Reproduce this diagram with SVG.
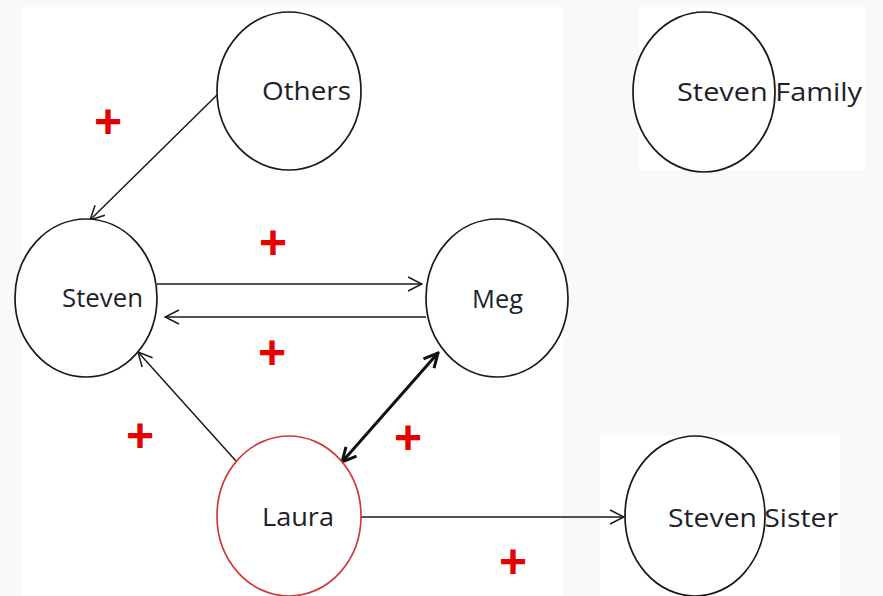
<svg xmlns="http://www.w3.org/2000/svg" width="883" height="596" viewBox="0 0 883 596">
<style>
.node{fill:#ffffff;stroke:#1a1a1a;stroke-width:1.7}
.red{stroke:#d03a3a}
.lbl{font-family:"Open Sans","Liberation Sans",sans-serif;font-size:26px;fill:#1e1e2a}
.plus{font-family:"Liberation Sans",Arial,sans-serif;font-weight:bold;font-size:48px;fill:#e60000;text-anchor:middle}
.edge{fill:none;stroke:#1a1a1a;stroke-width:1.5}
.thick{fill:none;stroke:#111;stroke-width:3}
</style>
<defs>
<marker id="arr" viewBox="0 0 16 16" refX="15" refY="8" markerWidth="16" markerHeight="16" markerUnits="userSpaceOnUse" orient="auto-start-reverse">
<path d="M1,1 L15,8 L1,15" fill="none" stroke="#1a1a1a" stroke-width="1.5"/>
</marker>
<marker id="arrT" viewBox="0 0 18 18" refX="16" refY="9" markerWidth="18" markerHeight="18" markerUnits="userSpaceOnUse" orient="auto-start-reverse">
<path d="M2,2 L16,9 L2,16" fill="none" stroke="#111" stroke-width="3"/>
</marker>
</defs>
<rect x="0" y="0" width="883" height="596" fill="#f9f9f9"/>
<rect x="22" y="7" width="541" height="589" fill="#ffffff"/>
<rect x="639" y="7" width="226" height="163" fill="#ffffff"/>
<rect x="600" y="435" width="240" height="161" fill="#ffffff"/>
<g id="connectors">
<line class="edge" x1="217" y1="95" x2="90" y2="220" marker-end="url(#arr)"/>
<line class="edge" x1="157" y1="284" x2="422" y2="284" marker-end="url(#arr)"/>
<line class="edge" x1="426" y1="317" x2="165" y2="317" marker-end="url(#arr)"/>
<line class="edge" x1="236" y1="461" x2="138" y2="352" marker-end="url(#arr)"/>
<line class="thick" x1="438" y1="353" x2="342" y2="462" marker-start="url(#arrT)" marker-end="url(#arrT)"/>
<line class="edge" x1="361" y1="517" x2="624" y2="517" marker-end="url(#arr)"/>
</g>
<g id="node-others">
<ellipse class="node" cx="289" cy="91" rx="72" ry="79"/>
<text class="lbl" x="262" y="100" textLength="89" lengthAdjust="spacingAndGlyphs">Others</text>
</g>
<g id="node-steven-family">
<ellipse class="node" cx="704" cy="92" rx="71" ry="80"/>
<text class="lbl" x="677" y="101" textLength="185" lengthAdjust="spacingAndGlyphs">Steven Family</text>
</g>
<g id="node-steven">
<ellipse class="node" cx="86" cy="298" rx="71" ry="79"/>
<text class="lbl" x="62" y="307" textLength="81" lengthAdjust="spacingAndGlyphs">Steven</text>
</g>
<g id="node-meg">
<ellipse class="node" cx="497" cy="298" rx="71" ry="79"/>
<text class="lbl" x="472" y="308" textLength="51" lengthAdjust="spacingAndGlyphs">Meg</text>
</g>
<g id="node-laura">
<ellipse class="node red" cx="289" cy="516" rx="72" ry="80"/>
<text class="lbl" x="262" y="526" textLength="72" lengthAdjust="spacingAndGlyphs">Laura</text>
</g>
<g id="node-steven-sister">
<ellipse class="node" cx="695" cy="516" rx="70" ry="80"/>
<text class="lbl" x="668" y="527" textLength="170" lengthAdjust="spacingAndGlyphs">Steven Sister</text>
</g>
<g id="signs">
<text class="plus" x="108" y="138">+</text>
<text class="plus" x="273" y="259">+</text>
<text class="plus" x="272" y="369">+</text>
<text class="plus" x="140" y="452">+</text>
<text class="plus" x="408" y="454">+</text>
<text class="plus" x="513" y="578">+</text>
</g>
</svg>
